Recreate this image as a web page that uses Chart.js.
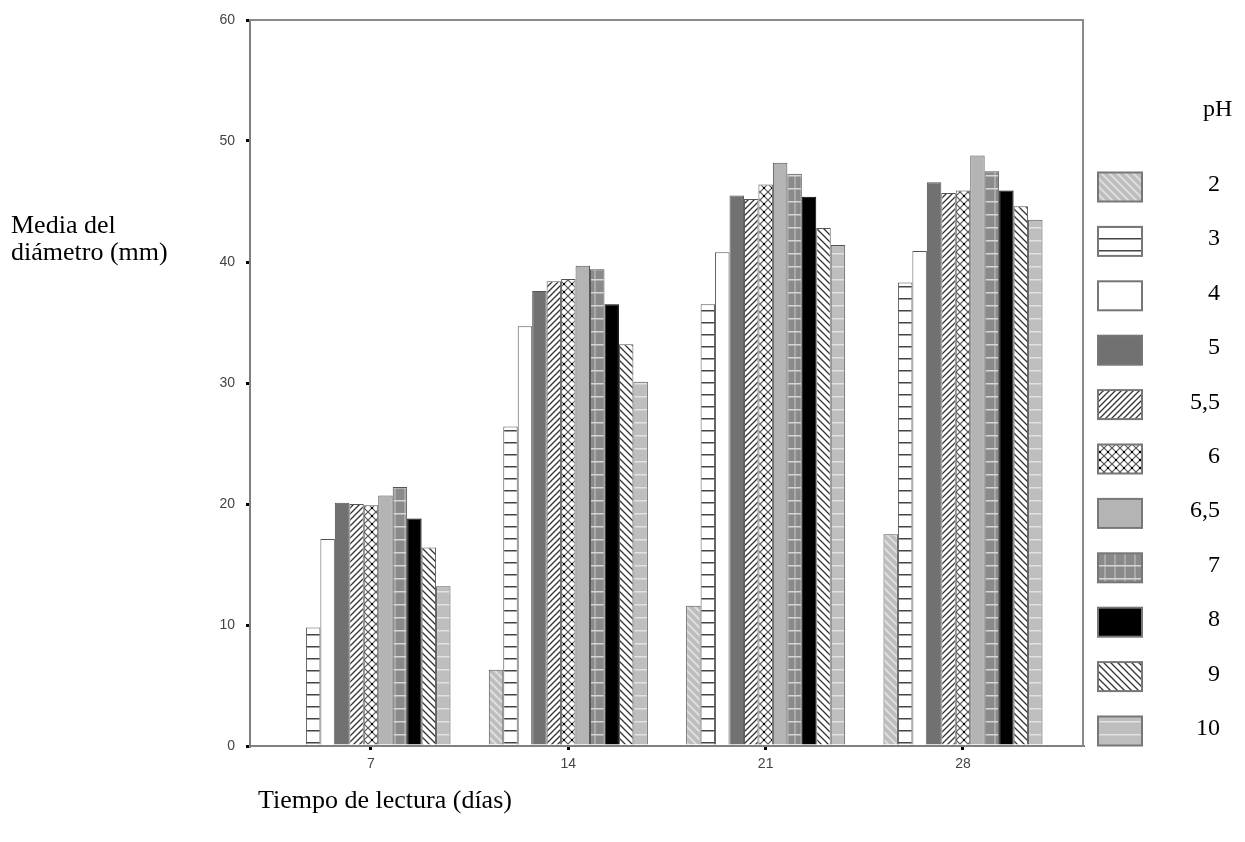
<!DOCTYPE html>
<html>
<head>
<meta charset="utf-8">
<script src="https://cdn.jsdelivr.net/npm/chart.js@4.4.0/dist/chart.umd.min.js"></script>
<style>
  html, body { margin: 0; padding: 0; background: #fff; }
  #wrap { width: 1245px; height: 842px; position: relative; }
</style>
</head>
<body>
<div id="wrap"><canvas id="c"></canvas></div>
<script>
// ---- data ----
const days = [7, 14, 21, 28];
const phLabels = ['2', '3', '4', '5', '5,5', '6', '6,5', '7', '8', '9', '10'];
const yTicks = [0, 10, 20, 30, 40, 50, 60];
const ph2  = [null, 6.3, 11.6, 17.5];
const ph3  = [9.8, 26.4, 36.5, 38.3];
const ph4  = [17.1, 34.7, 40.8, 40.9];
const ph5  = [20.1, 37.6, 45.5, 46.6];
const ph55 = [20.0, 38.4, 45.2, 45.7];
const ph6  = [19.9, 38.6, 46.4, 45.9];
const ph65 = [20.7, 39.7, 48.2, 48.8];
const ph7  = [21.4, 39.4, 47.3, 47.5];
const ph8  = [18.8, 36.5, 45.4, 45.9];
const ph9  = [16.4, 33.2, 42.8, 44.6];
const ph10 = [13.2, 30.1, 41.4, 43.5];
const seriesValues = [ph2, ph3, ph4, ph5, ph55, ph6, ph65, ph7, ph8, ph9, ph10];

// ---- patterns ----
function tile(w, h, draw) {
  const c = document.createElement('canvas');
  c.width = w; c.height = h;
  const g = c.getContext('2d');
  draw(g, w, h);
  return document.getElementById('c').getContext('2d').createPattern(c, 'repeat');
}
function diag(g, s, dir, color, lw) {
  g.strokeStyle = color; g.lineWidth = lw; g.lineCap = 'square';
  g.beginPath();
  if (dir === '/') {
    g.moveTo(0, s); g.lineTo(s, 0);
    g.moveTo(-1, 1); g.lineTo(1, -1);
    g.moveTo(s - 1, s + 1); g.lineTo(s + 1, s - 1);
  } else {
    g.moveTo(0, 0); g.lineTo(s, s);
    g.moveTo(-1, s - 1); g.lineTo(1, s + 1);
    g.moveTo(s - 1, -1); g.lineTo(s + 1, 1);
  }
  g.stroke();
}
const fills = [
  tile(8, 8, (g, w, h) => { g.fillStyle = '#bdbdbd'; g.fillRect(0, 0, w, h); diag(g, 8, '\\', '#dedede', 2); }),
  tile(8, 12.5, (g, w, h) => { g.fillStyle = '#fff'; g.fillRect(0, 0, w, h); g.fillStyle = '#444'; g.fillRect(0, 10, w, 1.5); }),
  '#ffffff',
  '#717171',
  tile(6, 6, (g, w, h) => { g.fillStyle = '#fff'; g.fillRect(0, 0, w, h); diag(g, 6, '/', '#333', 1.3); }),
  tile(8, 8, (g, w, h) => {
    g.fillStyle = '#fff'; g.fillRect(0, 0, w, h);
    diag(g, 8, '/', '#555', 1.2); diag(g, 8, '\\', '#555', 1.2);
    g.fillStyle = '#000'; g.fillRect(3, 3, 2, 2);
  }),
  '#b4b4b4',
  tile(10, 13, (g, w, h) => {
    g.fillStyle = '#8a8a8a'; g.fillRect(0, 0, w, h);
    g.fillStyle = '#a9a9a9'; g.fillRect(4, 0, 2, h);
    g.fillStyle = '#d6d6d6'; g.fillRect(0, 6, w, 1.5);
  }),
  '#000000',
  tile(7, 7, (g, w, h) => { g.fillStyle = '#fff'; g.fillRect(0, 0, w, h); diag(g, 7, '\\', '#333', 1.3); }),
  tile(8, 13, (g, w, h) => { g.fillStyle = '#bebebe'; g.fillRect(0, 0, w, h); g.fillStyle = '#e2e2e2'; g.fillRect(0, 6, w, 1.5); })
];

const serifTitle = '26px "Liberation Serif", "Times New Roman", serif';
const serifLegend = '24px "Liberation Serif", "Times New Roman", serif';

// ---- plugin: frame, titles, legend ----
const decor = {
  id: 'decor',
  afterDraw(chart) {
    const { ctx, chartArea: a } = chart;
    ctx.save();
    ctx.strokeStyle = '#8a8a8a';
    ctx.lineWidth = 2;
    ctx.beginPath();
    ctx.moveTo(a.left, a.top);
    ctx.lineTo(a.right, a.top);
    ctx.lineTo(a.right, a.bottom);
    ctx.stroke();

    ctx.fillStyle = '#000';
    ctx.font = serifTitle;
    ctx.textBaseline = 'alphabetic';
    ctx.textAlign = 'left';
    ctx.fillText('Media del', 11, 233);
    ctx.fillText('diámetro (mm)', 11, 260);
    ctx.fillText('Tiempo de lectura (días)', 258, 808);
    ctx.font = serifLegend;
    ctx.fillText('pH', 1203, 116);

    chart.data.datasets.forEach((ds, i) => {
      const yc = 187 + i * 54.4;
      ctx.fillStyle = ds.backgroundColor;
      ctx.fillRect(1098, yc - 14.5, 44, 29);
      ctx.strokeStyle = '#777';
      ctx.lineWidth = 2;
      ctx.strokeRect(1098, yc - 14.5, 44, 29);
      ctx.fillStyle = '#000';
      ctx.textAlign = 'right';
      ctx.fillText(ds.label, 1220, yc + 4);
    });
    ctx.restore();
  }
};

const datasets = seriesValues.map((vals, i) => ({
  label: phLabels[i],
  data: vals.map((v, j) => ({ x: days[j], y: v })),
  backgroundColor: fills[i],
  borderColor: i === 8 ? '#000' : '#555',
  borderWidth: 1,
  borderSkipped: 'start'
}));

new Chart(document.getElementById('c'), {
  type: 'bar',
  data: { datasets },
  options: {
    responsive: true,
    maintainAspectRatio: false,
    animation: false,
    events: [],
    layout: { padding: { left: 0, right: 162, top: 20, bottom: 0 } },
    datasets: { bar: { barPercentage: 1, categoryPercentage: 0.806, grouped: true } },
    plugins: { legend: { display: false }, tooltip: { enabled: false } },
    scales: {
      x: {
        type: 'linear',
        offset: false,
        min: 2.708,
        max: 32.257,
        afterBuildTicks(scale) { scale.ticks = days.map(v => ({ value: v })); },
        afterFit(scale) { scale.height = 96; },
        grid: { display: true, offset: false, drawOnChartArea: false, drawTicks: true, tickLength: 4, color: '#000', lineWidth: 3 },
        border: { display: true, color: '#808080', width: 2 },
        ticks: { padding: 6, color: '#444', font: { family: '"Liberation Sans", Arial, sans-serif', size: 14 }, callback: v => String(v) }
      },
      y: {
        min: 0,
        max: 60,
        afterBuildTicks(scale) { scale.ticks = yTicks.map(v => ({ value: v })); },
        afterFit(scale) { scale.width = 250; },
        grid: { display: true, drawOnChartArea: false, drawTicks: true, tickLength: 4, color: '#000', lineWidth: 3 },
        border: { display: true, color: '#808080', width: 2 },
        ticks: { padding: 11, color: '#444', font: { family: '"Liberation Sans", Arial, sans-serif', size: 14 } }
      }
    }
  },
  plugins: [decor]
});
</script>
</body>
</html>
